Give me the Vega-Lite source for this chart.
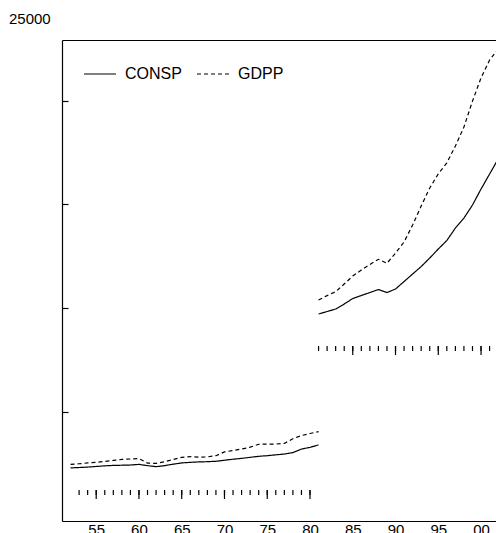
{
  "$schema": "https://vega.github.io/schema/vega-lite/v6.json",
  "width": 434,
  "height": 481,
  "autosize": {"type": "none"},
  "padding": {"left": 62, "top": 40, "right": 0, "bottom": 12},
  "config": {
    "font": "Liberation Sans",
    "view": {"stroke": null},
    "axis": {"grid": false, "domainColor": "black", "domainWidth": 1.2, "labelColor": "black", "labelFont": "Liberation Sans", "labelFontSize": 15, "tickColor": "black"}
  },
  "title": {"text": "25000", "anchor": "start", "frame": "group", "fontSize": 15, "fontWeight": "normal", "color": "black", "baseline": "alphabetic", "offset": 14, "dx": -53, "dy": 13, "font": "Liberation Sans"},
  "datasets": {
    "series": [
      {"year": 1952, "series": "CONSP", "value": 2290, "segment": 1},
      {"year": 1953, "series": "CONSP", "value": 2310, "segment": 1},
      {"year": 1954, "series": "CONSP", "value": 2330, "segment": 1},
      {"year": 1955, "series": "CONSP", "value": 2360, "segment": 1},
      {"year": 1956, "series": "CONSP", "value": 2390, "segment": 1},
      {"year": 1957, "series": "CONSP", "value": 2410, "segment": 1},
      {"year": 1958, "series": "CONSP", "value": 2420, "segment": 1},
      {"year": 1959, "series": "CONSP", "value": 2430, "segment": 1},
      {"year": 1960, "series": "CONSP", "value": 2460, "segment": 1},
      {"year": 1961, "series": "CONSP", "value": 2400, "segment": 1},
      {"year": 1962, "series": "CONSP", "value": 2350, "segment": 1},
      {"year": 1963, "series": "CONSP", "value": 2400, "segment": 1},
      {"year": 1964, "series": "CONSP", "value": 2470, "segment": 1},
      {"year": 1965, "series": "CONSP", "value": 2530, "segment": 1},
      {"year": 1966, "series": "CONSP", "value": 2560, "segment": 1},
      {"year": 1967, "series": "CONSP", "value": 2580, "segment": 1},
      {"year": 1968, "series": "CONSP", "value": 2590, "segment": 1},
      {"year": 1969, "series": "CONSP", "value": 2610, "segment": 1},
      {"year": 1970, "series": "CONSP", "value": 2660, "segment": 1},
      {"year": 1971, "series": "CONSP", "value": 2710, "segment": 1},
      {"year": 1972, "series": "CONSP", "value": 2750, "segment": 1},
      {"year": 1973, "series": "CONSP", "value": 2800, "segment": 1},
      {"year": 1974, "series": "CONSP", "value": 2850, "segment": 1},
      {"year": 1975, "series": "CONSP", "value": 2880, "segment": 1},
      {"year": 1976, "series": "CONSP", "value": 2920, "segment": 1},
      {"year": 1977, "series": "CONSP", "value": 2960, "segment": 1},
      {"year": 1978, "series": "CONSP", "value": 3030, "segment": 1},
      {"year": 1979, "series": "CONSP", "value": 3200, "segment": 1},
      {"year": 1980, "series": "CONSP", "value": 3280, "segment": 1},
      {"year": 1981, "series": "CONSP", "value": 3400, "segment": 1},
      {"year": 1952, "series": "GDPP", "value": 2460, "segment": 1},
      {"year": 1953, "series": "GDPP", "value": 2490, "segment": 1},
      {"year": 1954, "series": "GDPP", "value": 2530, "segment": 1},
      {"year": 1955, "series": "GDPP", "value": 2560, "segment": 1},
      {"year": 1956, "series": "GDPP", "value": 2600, "segment": 1},
      {"year": 1957, "series": "GDPP", "value": 2650, "segment": 1},
      {"year": 1958, "series": "GDPP", "value": 2700, "segment": 1},
      {"year": 1959, "series": "GDPP", "value": 2720, "segment": 1},
      {"year": 1960, "series": "GDPP", "value": 2740, "segment": 1},
      {"year": 1961, "series": "GDPP", "value": 2520, "segment": 1},
      {"year": 1962, "series": "GDPP", "value": 2510, "segment": 1},
      {"year": 1963, "series": "GDPP", "value": 2590, "segment": 1},
      {"year": 1964, "series": "GDPP", "value": 2700, "segment": 1},
      {"year": 1965, "series": "GDPP", "value": 2800, "segment": 1},
      {"year": 1966, "series": "GDPP", "value": 2830, "segment": 1},
      {"year": 1967, "series": "GDPP", "value": 2810, "segment": 1},
      {"year": 1968, "series": "GDPP", "value": 2820, "segment": 1},
      {"year": 1969, "series": "GDPP", "value": 2880, "segment": 1},
      {"year": 1970, "series": "GDPP", "value": 3060, "segment": 1},
      {"year": 1971, "series": "GDPP", "value": 3130, "segment": 1},
      {"year": 1972, "series": "GDPP", "value": 3200, "segment": 1},
      {"year": 1973, "series": "GDPP", "value": 3290, "segment": 1},
      {"year": 1974, "series": "GDPP", "value": 3430, "segment": 1},
      {"year": 1975, "series": "GDPP", "value": 3440, "segment": 1},
      {"year": 1976, "series": "GDPP", "value": 3440, "segment": 1},
      {"year": 1977, "series": "GDPP", "value": 3470, "segment": 1},
      {"year": 1978, "series": "GDPP", "value": 3700, "segment": 1},
      {"year": 1979, "series": "GDPP", "value": 3850, "segment": 1},
      {"year": 1980, "series": "GDPP", "value": 3950, "segment": 1},
      {"year": 1981, "series": "GDPP", "value": 4040, "segment": 1},
      {"year": 1981, "series": "CONSP", "value": 9711, "segment": 2},
      {"year": 1982, "series": "CONSP", "value": 9832, "segment": 2},
      {"year": 1983, "series": "CONSP", "value": 9953, "segment": 2},
      {"year": 1984, "series": "CONSP", "value": 10194, "segment": 2},
      {"year": 1985, "series": "CONSP", "value": 10459, "segment": 2},
      {"year": 1986, "series": "CONSP", "value": 10604, "segment": 2},
      {"year": 1987, "series": "CONSP", "value": 10748, "segment": 2},
      {"year": 1988, "series": "CONSP", "value": 10893, "segment": 2},
      {"year": 1989, "series": "CONSP", "value": 10748, "segment": 2},
      {"year": 1990, "series": "CONSP", "value": 10917, "segment": 2},
      {"year": 1991, "series": "CONSP", "value": 11279, "segment": 2},
      {"year": 1992, "series": "CONSP", "value": 11640, "segment": 2},
      {"year": 1993, "series": "CONSP", "value": 12002, "segment": 2},
      {"year": 1994, "series": "CONSP", "value": 12412, "segment": 2},
      {"year": 1995, "series": "CONSP", "value": 12846, "segment": 2},
      {"year": 1996, "series": "CONSP", "value": 13256, "segment": 2},
      {"year": 1997, "series": "CONSP", "value": 13858, "segment": 2},
      {"year": 1998, "series": "CONSP", "value": 14341, "segment": 2},
      {"year": 1999, "series": "CONSP", "value": 14968, "segment": 2},
      {"year": 2000, "series": "CONSP", "value": 15739, "segment": 2},
      {"year": 2001, "series": "CONSP", "value": 16462, "segment": 2},
      {"year": 2002, "series": "CONSP", "value": 17185, "segment": 2},
      {"year": 1981, "series": "GDPP", "value": 10387, "segment": 2},
      {"year": 1982, "series": "GDPP", "value": 10600, "segment": 2},
      {"year": 1983, "series": "GDPP", "value": 10790, "segment": 2},
      {"year": 1984, "series": "GDPP", "value": 11160, "segment": 2},
      {"year": 1985, "series": "GDPP", "value": 11545, "segment": 2},
      {"year": 1986, "series": "GDPP", "value": 11833, "segment": 2},
      {"year": 1987, "series": "GDPP", "value": 12100, "segment": 2},
      {"year": 1988, "series": "GDPP", "value": 12350, "segment": 2},
      {"year": 1989, "series": "GDPP", "value": 12157, "segment": 2},
      {"year": 1990, "series": "GDPP", "value": 12650, "segment": 2},
      {"year": 1991, "series": "GDPP", "value": 13185, "segment": 2},
      {"year": 1992, "series": "GDPP", "value": 14000, "segment": 2},
      {"year": 1993, "series": "GDPP", "value": 14920, "segment": 2},
      {"year": 1994, "series": "GDPP", "value": 15790, "segment": 2},
      {"year": 1995, "series": "GDPP", "value": 16470, "segment": 2},
      {"year": 1996, "series": "GDPP", "value": 17000, "segment": 2},
      {"year": 1997, "series": "GDPP", "value": 17810, "segment": 2},
      {"year": 1998, "series": "GDPP", "value": 18730, "segment": 2},
      {"year": 1999, "series": "GDPP", "value": 19980, "segment": 2},
      {"year": 2000, "series": "GDPP", "value": 21100, "segment": 2},
      {"year": 2001, "series": "GDPP", "value": 21960, "segment": 2},
      {"year": 2002, "series": "GDPP", "value": 22490, "segment": 2}
    ],
    "rug": [
      {"year": 1953, "segment": 1}, {"year": 1954, "segment": 1}, {"year": 1955, "segment": 1}, {"year": 1956, "segment": 1},
      {"year": 1957, "segment": 1}, {"year": 1958, "segment": 1}, {"year": 1959, "segment": 1}, {"year": 1960, "segment": 1},
      {"year": 1961, "segment": 1}, {"year": 1962, "segment": 1}, {"year": 1963, "segment": 1}, {"year": 1964, "segment": 1},
      {"year": 1965, "segment": 1}, {"year": 1966, "segment": 1}, {"year": 1967, "segment": 1}, {"year": 1968, "segment": 1},
      {"year": 1969, "segment": 1}, {"year": 1970, "segment": 1}, {"year": 1971, "segment": 1}, {"year": 1972, "segment": 1},
      {"year": 1973, "segment": 1}, {"year": 1974, "segment": 1}, {"year": 1975, "segment": 1}, {"year": 1976, "segment": 1},
      {"year": 1977, "segment": 1}, {"year": 1978, "segment": 1}, {"year": 1979, "segment": 1}, {"year": 1980, "segment": 1},
      {"year": 1981, "segment": 2}, {"year": 1982, "segment": 2}, {"year": 1983, "segment": 2}, {"year": 1984, "segment": 2},
      {"year": 1985, "segment": 2}, {"year": 1986, "segment": 2}, {"year": 1987, "segment": 2}, {"year": 1988, "segment": 2},
      {"year": 1989, "segment": 2}, {"year": 1990, "segment": 2}, {"year": 1991, "segment": 2}, {"year": 1992, "segment": 2},
      {"year": 1993, "segment": 2}, {"year": 1994, "segment": 2}, {"year": 1995, "segment": 2}, {"year": 1996, "segment": 2},
      {"year": 1997, "segment": 2}, {"year": 1998, "segment": 2}, {"year": 1999, "segment": 2}, {"year": 2000, "segment": 2},
      {"year": 2001, "segment": 2}
    ]
  },
  "layer": [
    {
      "data": {"name": "series"},
      "mark": {"type": "line", "strokeWidth": 1.2, "color": "black", "clip": true},
      "encoding": {
        "x": {"field": "year", "type": "quantitative",
          "scale": {"domain": [1951, 2001.75], "nice": false, "zero": false},
          "axis": {"orient": "bottom", "values": [1955, 1960, 1965, 1970, 1975, 1980, 1985, 1990, 1995, 2000], "format": "d", "labelExpr": "slice(datum.label, 2)", "ticks": false, "labelPadding": 1, "title": null, "labelFlush": false, "labelOverlap": false}},
        "y": {"field": "value", "type": "quantitative",
          "scale": {"domain": [-270, 22927], "nice": false, "zero": false},
          "axis": {"values": [5000, 10000, 15000, 20000], "labels": false, "tickSize": -6, "tickWidth": 1.2, "title": null}},
        "strokeDash": {"field": "series", "type": "nominal",
          "scale": {"domain": ["CONSP", "GDPP"], "range": [[1, 0], [4, 3]]},
          "legend": {"title": null, "orient": "none", "legendX": 21, "legendY": 17, "direction": "horizontal", "padding": 0, "symbolType": "stroke", "symbolSize": 1024, "symbolStrokeWidth": 1.2, "symbolStrokeColor": "black", "labelFontSize": 16, "labelColor": "black", "labelOffset": 8, "columnPadding": 12, "labelFont": "Liberation Sans"}},
        "detail": {"field": "segment", "type": "nominal"}
      }
    },
    {
      "data": {"name": "rug"},
      "transform": [{"filter": "datum.segment == 1"}],
      "mark": {"type": "rule", "color": "black", "strokeWidth": 1.2},
      "encoding": {
        "x": {"field": "year", "type": "quantitative", "axis": {"orient": "top", "labels": false, "ticks": false, "title": null, "domain": true}},
        "y": {"datum": 1225, "type": "quantitative"},
        "y2": {"datum": 984}
      }
    },
    {
      "data": {"name": "rug"},
      "transform": [{"filter": "datum.segment == 1 && datum.year % 5 == 0"}],
      "mark": {"type": "rule", "color": "black", "strokeWidth": 1.2},
      "encoding": {
        "x": {"field": "year", "type": "quantitative", "axis": null},
        "y": {"datum": 1225, "type": "quantitative"},
        "y2": {"datum": 791}
      }
    },
    {
      "data": {"name": "rug"},
      "transform": [{"filter": "datum.segment == 2"}],
      "mark": {"type": "rule", "color": "black", "strokeWidth": 1.2},
      "encoding": {
        "x": {"field": "year", "type": "quantitative", "axis": null},
        "y": {"datum": 8168, "type": "quantitative"},
        "y2": {"datum": 7927}
      }
    },
    {
      "data": {"name": "rug"},
      "transform": [{"filter": "datum.segment == 2 && datum.year % 5 == 0"}],
      "mark": {"type": "rule", "color": "black", "strokeWidth": 1.2},
      "encoding": {
        "x": {"field": "year", "type": "quantitative", "axis": null},
        "y": {"datum": 8168, "type": "quantitative"},
        "y2": {"datum": 7734}
      }
    }
  ],
  "resolve": {"axis": {"x": "independent"}}
}
